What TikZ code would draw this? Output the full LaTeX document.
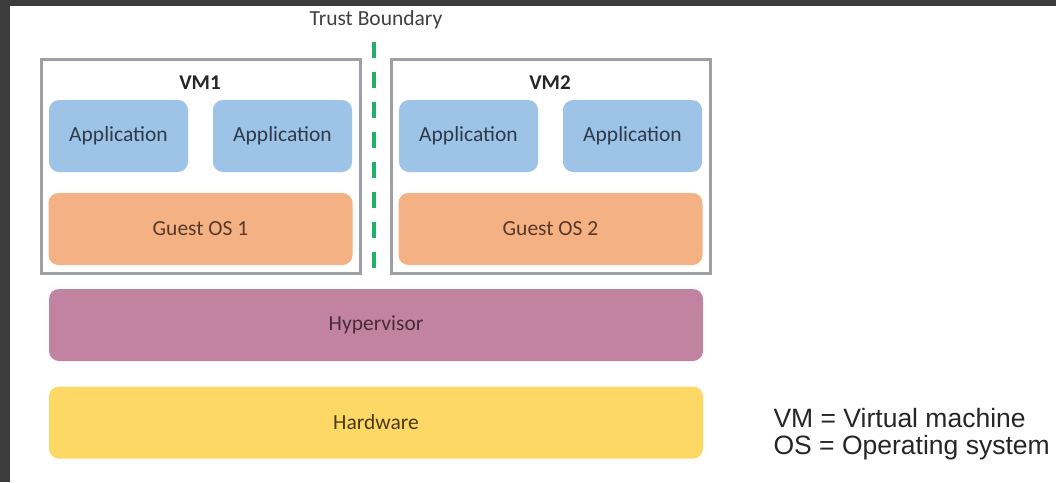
\documentclass[tikz,border=0pt]{standalone}
\usepackage{fontspec}
\setmainfont{Carlito}
\newfontfamily\legendfont{Liberation Sans}
\definecolor{bgdark}{HTML}{3C3C3C}
\definecolor{appblue}{HTML}{9DC3E6}
\definecolor{osorange}{HTML}{F4B183}
\definecolor{hypmauve}{HTML}{C283A3}
\definecolor{hwyellow}{HTML}{FDD865}
\definecolor{vmgray}{HTML}{9C9FA3}
\definecolor{tbgreen}{HTML}{22B068}
\definecolor{apptext}{HTML}{2E3A4C}
\definecolor{ostext}{HTML}{5A3828}
\definecolor{hyptext}{HTML}{4A2A3C}
\definecolor{hwtext}{HTML}{4A3A18}
\begin{document}
\begin{tikzpicture}[x=1pt,y=-1pt,
  every node/.style={font=\fontsize{21.5}{25}\selectfont},
  layer/.style={rounded corners=10pt, inner sep=0pt, anchor=center},
  appbox/.style={layer, fill=appblue, text=apptext, minimum width=139pt, minimum height=72pt},
  osbox/.style={layer, fill=osorange, text=ostext, minimum width=304pt, minimum height=72pt},
  widebox/.style={layer, minimum width=654pt, minimum height=72pt},
  vmbox/.style={draw=vmgray, line width=3pt, inner sep=0pt, minimum width=319pt, minimum height=214pt},
  vmlabel/.style={font=\fontsize{21}{25}\selectfont\bfseries, text=black!85},
  legend/.style={font=\fontsize{26.5}{26.5}\selectfont\legendfont, text=black!85, align=left, anchor=west}
]
\useasboundingbox (0,0) rectangle (1056,482);
\fill[bgdark] (0,0) rectangle (1056,482);
\fill[white] (10,6) rectangle (1056,482);

% VM containers
\node[vmbox] (vm1) at (200.5,166) {};
\node[vmbox] (vm2) at (550.5,166) {};
\node[vmlabel] (vm1l) at (200,83) {VM1};
\node[vmlabel] (vm2l) at (550,83) {VM2};

% applications
\node[appbox] (a11) at (118.5,136) {Application};
\node[appbox] (a12) at (282.5,136) {Application};
\node[appbox] (a21) at (468.5,136) {Application};
\node[appbox] (a22) at (632.5,136) {Application};

% guest OS
\node[osbox] (os1) at (200.5,229) {Guest OS 1};
\node[osbox] (os2) at (550.5,229) {Guest OS 2};

% hypervisor & hardware
\node[widebox, fill=hypmauve, text=hyptext] (hyp) at (376,325) {Hypervisor};
\node[widebox, fill=hwyellow, text=hwtext] (hw) at (376,422.5) {Hardware};

% trust boundary
\node[text=black!75] (tbl) at (376,20) {Trust Boundary};
\coordinate (tb1) at (374,42);
\coordinate (tb2) at (374,272);
\draw[tbgreen, line width=4pt, dash pattern=on 16pt off 14pt] (tb1) -- (tb2);

% legend
\node[legend] (leg) at (770,434) {VM = Virtual machine\\OS = Operating system};
\end{tikzpicture}
\end{document}
